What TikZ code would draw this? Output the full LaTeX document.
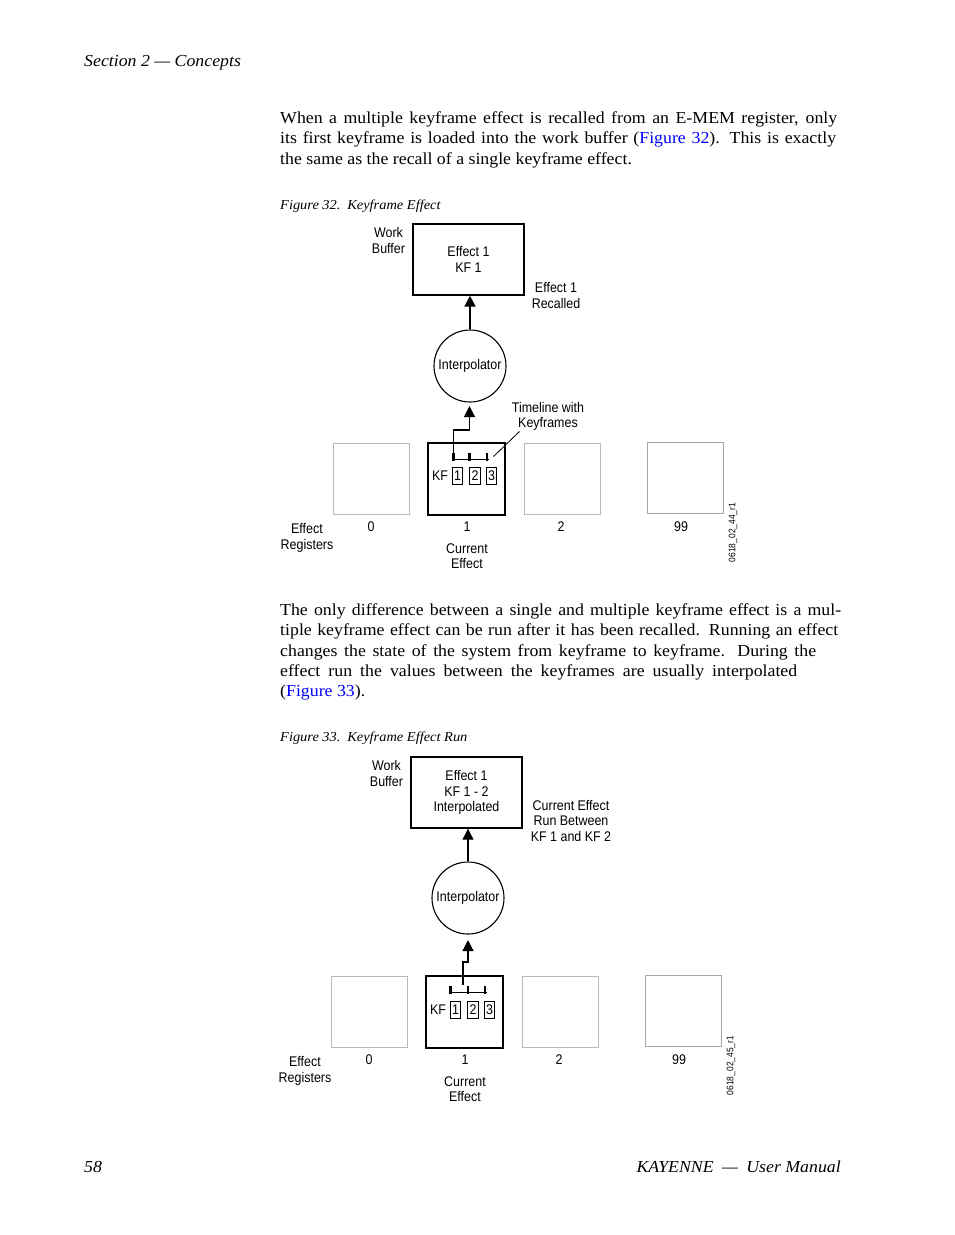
\documentclass[tikz,border=0pt]{standalone}
\usepackage{fontspec}
\setmainfont{Liberation Serif}[FakeStretch=1.06]
\newfontfamily\dfont{Liberation Sans}[FakeStretch=0.89]
\usetikzlibrary{arrows.meta,calc}
\definecolor{linkblue}{RGB}{0,0,255}
\definecolor{regray}{RGB}{185,185,185}
\newcommand\bodyfnt{\fontsize{16.8}{20.5}\selectfont}
\newcommand\capfnt{\fontsize{13.6}{16}\selectfont\itshape}
\newcommand\jline[2]{\makebox[#1pt][s]{#2}}
\tikzset{
  bodyline/.style={anchor=base west, inner sep=0pt, font=\bodyfnt},
  dtxt/.style={font=\dfont\fontsize{14}{15.5}\selectfont, align=center, inner sep=0pt},
  wbox/.style={draw, line width=1.4pt, minimum width=111pt, minimum height=71pt, dtxt},
  interp/.style={draw, circle, line width=1.1pt, minimum size=72pt, dtxt},
  regbox/.style={draw=regray, line width=1pt, minimum width=76pt, minimum height=71pt, inner sep=0pt},
  curbox/.style={draw, line width=1.3pt, minimum width=77pt, minimum height=72pt, inner sep=0pt},
  kfbox/.style={draw, line width=0.9pt, minimum width=10.5pt, minimum height=17pt, dtxt},
  kftick/.style={line width=2.6pt},
  tline/.style={line width=1.3pt},
  conn/.style={line width=1.2pt, -{Triangle[length=11pt,width=11pt]}},
  idtxt/.style={font=\dfont\fontsize{9.5}{10}\selectfont, rotate=90, inner sep=0pt}
}
\begin{document}
\begin{tikzpicture}[x=1pt,y=-1pt]
\useasboundingbox[fill=white] (0,0) rectangle (954,1235);

% header / footer
\node[anchor=base west, inner sep=0pt, font=\bodyfnt\itshape] (hdr) at (84,66) {Section 2 — Concepts};
\node[anchor=base west, inner sep=0pt, font=\bodyfnt\itshape] (pgno) at (84,1172) {58};
\node[anchor=base east, inner sep=0pt, font=\bodyfnt\itshape] (ftr) at (841,1172) {KAYENNE\enspace —\enspace User Manual};

% paragraph 1
\node[bodyline] (p1a) at (280,123) {\jline{557}{When a multiple keyframe effect is recalled from an E-MEM register, only}};
\node[bodyline] (p1b) at (280,143.5) {\jline{556}{its first keyframe is loaded into the work buffer (\textcolor{linkblue}{Figure 32}). This is exactly}};
\node[bodyline] (p1c) at (280,164) {the same as the recall of a single keyframe effect.};

% caption 32
\node[anchor=base west, inner sep=0pt, font=\capfnt] (cap32) at (280,209) {Figure 32.\enspace Keyframe Effect};

% paragraph 2
\node[bodyline] (p2a) at (280,615) {\jline{561}{The only difference between a single and multiple keyframe effect is a mul-}};
\node[bodyline] (p2b) at (280,635.5) {\jline{558}{tiple keyframe effect can be run after it has been recalled. Running an effect}};
\node[bodyline] (p2c) at (280,656) {\jline{536}{changes the state of the system from keyframe to keyframe. During the}};
\node[bodyline] (p2d) at (280,676) {\jline{517}{effect run the values between the keyframes are usually interpolated}};
\node[bodyline] (p2e) at (280,696.5) {(\textcolor{linkblue}{Figure 33}).};

% caption 33
\node[anchor=base west, inner sep=0pt, font=\capfnt] (cap33) at (280,741) {Figure 33.\enspace Keyframe Effect Run};

% ================= Figure 32 =================
\begin{scope}
\node[wbox] (aWB) at (468.5,259.5) {Effect 1\\KF 1};
\node[dtxt] (aWBl) at (388.5,240.5) {Work\\Buffer};
\node[dtxt] (aRec) at (556,295.5) {Effect 1\\Recalled};
\node[interp] (aIP) at (470,366) {Interpolator};
\draw[conn, line width=2pt] (aIP.north) -- (aIP.north |- aWB.south);

\node[regbox] (aR0) at (371,478.5) {};
\node[curbox] (aR1) at (466.5,479) {};
\node[regbox] (aR2) at (562,478.5) {};
\node[regbox, draw=black!35] (aR99) at (685,477.5) {};

\node[dtxt] (aKF) at (440,475.5) {KF};
\node[kfbox] (aK1) at (457.5,475.5) {1};
\node[kfbox] (aK2) at (475,475.5) {2};
\node[kfbox] (aK3) at (491.5,475.5) {3};

\coordinate (aT1) at (453.5,453);
\coordinate (aT2) at (469.5,453);
\coordinate (aT3) at (487,453);
\coordinate (aTL) at (452,459.5);
\coordinate (aTR) at (488.5,459.5);
\draw[tline] (aTL) -- (aTR);
\draw[kftick] (aT1) -- ++(0,7.5);
\draw[kftick] (aT2) -- ++(0,7.5);
\draw[kftick] (aT3) -- ++(0,7.5);

\coordinate (aJog) at (469.5,430);
\coordinate (aTip) at (469.5,406);
\draw[conn] (aT1) |- (aJog) -- (aTip);

\node[dtxt] (aTLab) at (548,416.5) {Timeline with\\Keyframes};
\coordinate (aLd1) at (493.5,456.5);
\coordinate (aLd2) at (519.5,431.5);
\draw[line width=0.8pt] (aLd1) -- (aLd2);

\node[dtxt] (aN0) at (371,527) {0};
\node[dtxt] (aN1) at (467,527) {1};
\node[dtxt] (aN2) at (561,527) {2};
\node[dtxt] (aN99) at (681,527) {99};
\node[dtxt] (aER) at (307,538) {Effect\\Registers};
\node[dtxt] (aCE) at (467,556) {Current\\Effect};
\node[idtxt] (aID) at (733,532.5) {0618\_02\_44\_r1};
\end{scope}

% ================= Figure 33 =================
\begin{scope}[shift={(-2,533)}]
\node[wbox] (bWB) at (468.5,259.5) {Effect 1\\KF 1 - 2\\Interpolated};
\node[dtxt] (bWBl) at (388.5,240.5) {Work\\Buffer};
\node[dtxt] (bRun) at (573,287.5) {Current Effect\\Run Between\\KF 1 and KF 2};
\node[interp] (bIP) at (470,365) {Interpolator};
\draw[conn] (bIP.north) -- (bIP.north |- bWB.south);

\node[regbox] (bR0) at (371,478.5) {};
\node[curbox] (bR1) at (466.5,479) {};
\node[regbox] (bR2) at (562,478.5) {};
\node[regbox, draw=black!35] (bR99) at (685,477.5) {};

\node[dtxt] (bKF) at (440,477) {KF};
\node[kfbox] (bK1) at (457.5,477) {1};
\node[kfbox] (bK2) at (475,477) {2};
\node[kfbox] (bK3) at (491.5,477) {3};

\coordinate (bT1) at (452.5,453);
\coordinate (bT2) at (470,453);
\coordinate (bT3) at (487,453);
\coordinate (bTL) at (451,459.5);
\coordinate (bTR) at (488.5,459.5);
\draw[tline] (bTL) -- (bTR);
\draw[kftick] (bT1) -- ++(0,7.5);
\draw[kftick] (bT2) -- ++(0,7.5);
\draw[kftick] (bT3) -- ++(0,7.5);

\coordinate (bPos) at (465,452);
\coordinate (bJog) at (470,429);
\coordinate (bTip) at (470,407);
\draw[conn] (bPos) |- (bJog) -- (bTip);

\node[dtxt] (bN0) at (371,527) {0};
\node[dtxt] (bN1) at (467,527) {1};
\node[dtxt] (bN2) at (561,527) {2};
\node[dtxt] (bN99) at (681,527) {99};
\node[dtxt] (bER) at (307,538) {Effect\\Registers};
\node[dtxt] (bCE) at (467,556) {Current\\Effect};
\node[idtxt] (bID) at (733,532.5) {0618\_02\_45\_r1};
\end{scope}
\end{tikzpicture}
\end{document}
